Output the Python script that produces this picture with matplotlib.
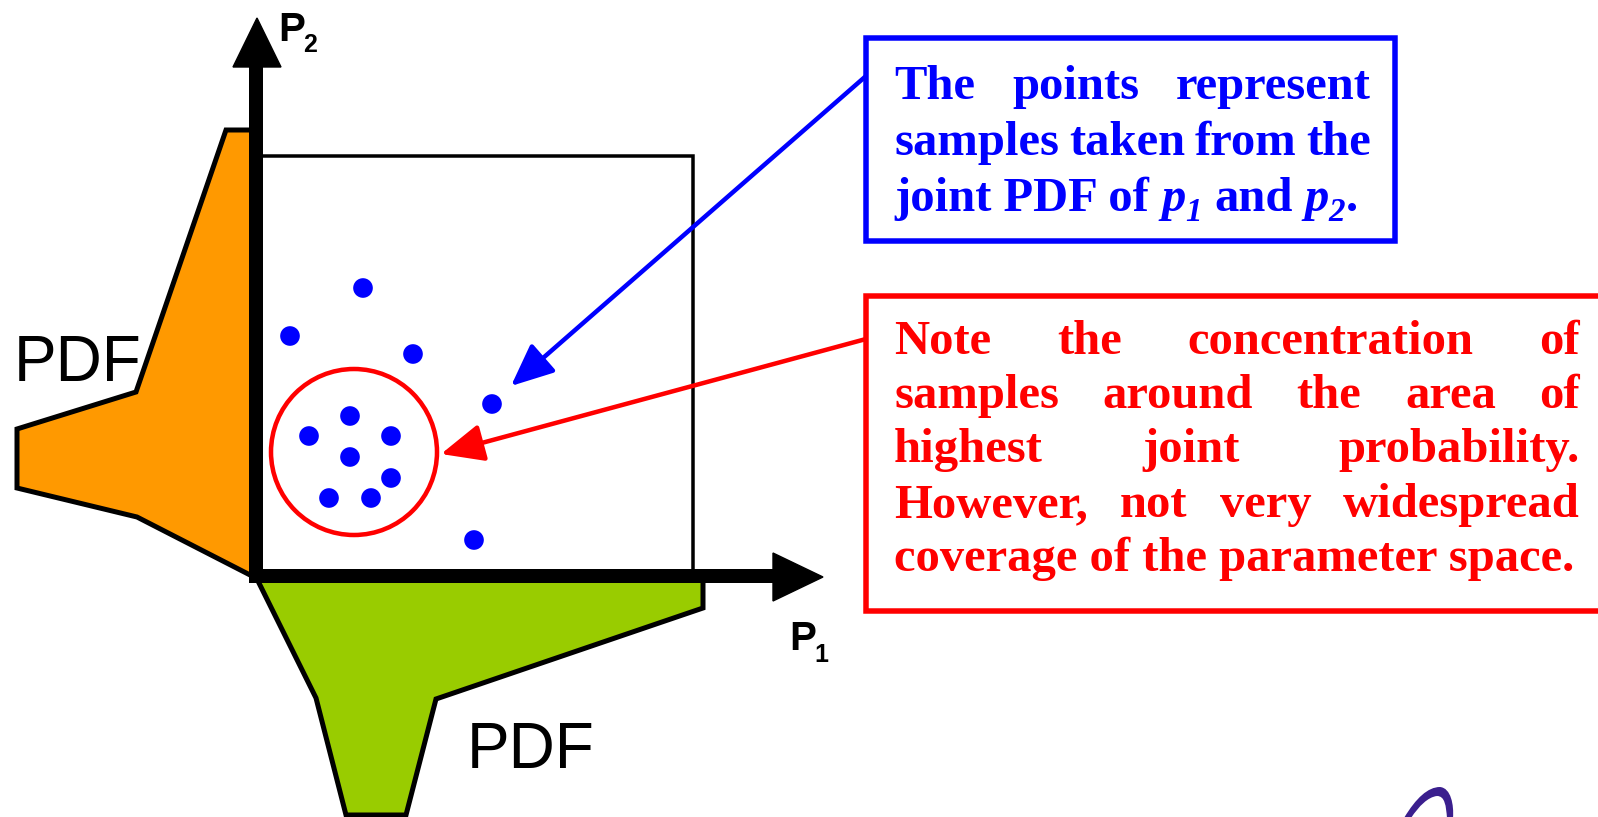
import matplotlib
matplotlib.use("Agg")
import matplotlib.pyplot as plt
from matplotlib.patches import Polygon, Rectangle, Circle, FancyArrowPatch, PathPatch
from matplotlib.path import Path
from matplotlib.font_manager import FontProperties

# ---------------- data (pixel space of the diagram) ----------------
sample_x = [363, 290, 413, 492, 350, 309, 391, 350, 391, 329, 371, 474]
sample_y = [288, 336, 354, 404, 416, 436, 436, 457, 478, 498, 498, 540]

pdf_p2_x = [254, 137, 17, 17, 136, 226, 256]
pdf_p2_y = [577, 517, 488, 429, 392, 130, 130]

pdf_p1_x = [256, 316, 346, 406, 436, 703, 703]
pdf_p1_y = [577, 698, 815, 815, 699, 608, 577]

blue_lines = ["The points represent", "samples taken from the"]
red_lines = ["Note the concentration of",
             "samples around the area of",
             "highest joint probability.",
             "However, not very widespread"]
red_last = "coverage of the parameter space."

BLUE = "#0000FF"
RED = "#FF0000"
ORANGE = "#FF9900"
GREEN = "#99CC00"

W, H = 1598, 817
fig = plt.figure(figsize=(W / 100, H / 100), dpi=100)
ax = fig.add_axes([0, 0, 1, 1])
ax.set_xlim(0, W)
ax.set_ylim(H, 0)
ax.axis("off")

PX = 0.72  # points per pixel

# PDF polygons
ax.add_patch(Polygon(list(zip(pdf_p2_x, pdf_p2_y)), closed=True, facecolor=ORANGE,
                     edgecolor="black", lw=5 * PX, joinstyle="miter", zorder=2))
ax.add_patch(Polygon(list(zip(pdf_p1_x, pdf_p1_y)), closed=True, facecolor=GREEN,
                     edgecolor="black", lw=5 * PX, joinstyle="miter", zorder=2))

# parameter space box
ax.add_patch(Rectangle((256, 156), 693 - 256, 576 - 156, facecolor="white",
                       edgecolor="black", lw=3.5 * PX, zorder=3))

# axes shafts
ax.plot([256, 256], [583, 66], color="black", lw=14 * PX, solid_capstyle="butt", zorder=4)
ax.plot([249, 774], [576, 576], color="black", lw=14 * PX, solid_capstyle="butt", zorder=4)
# arrow heads
ax.fill([233, 281, 257], [67, 67, 18], color="black", zorder=5)
ax.fill([773, 773, 823], [553, 601, 577], color="black", zorder=5)

# axis labels
bold_sans = FontProperties(family="Liberation Sans", weight="bold")
ax.text(278, 41, "P", fontproperties=bold_sans, fontsize=29, va="baseline", ha="left", zorder=6)
ax.text(303, 52, "2", fontproperties=bold_sans, fontsize=18, va="baseline", ha="left", zorder=6)
ax.text(789, 650, "P", fontproperties=bold_sans, fontsize=29, va="baseline", ha="left", zorder=6)
ax.text(814, 662, "1", fontproperties=bold_sans, fontsize=18, va="baseline", ha="left", zorder=6)

# PDF labels
ax.text(14, 381, "PDF", family="Liberation Sans", fontsize=46, va="baseline", ha="left", zorder=6)
ax.text(467, 768, "PDF", family="Liberation Sans", fontsize=46, va="baseline", ha="left", zorder=6)

# samples
ax.scatter(sample_x, sample_y, s=200, color=BLUE, edgecolors="none", zorder=6)

# concentration circle
ax.add_patch(Circle((354, 452), 83, facecolor="none", edgecolor=RED, lw=4.5 * PX, zorder=6))

# callout arrows
for (x0, y0, x1, y1, c) in [(866, 76, 511, 386, BLUE), (866, 339, 441, 454, RED)]:
    ax.add_patch(FancyArrowPatch((x0, y0), (x1, y1),
                                 arrowstyle="-|>,head_length=2.6,head_width=1.15",
                                 mutation_scale=10, color=c, lw=4.5 * PX,
                                 shrinkA=0, shrinkB=0, zorder=7))

# text boxes
ax.add_patch(Rectangle((866, 38), 1395 - 866, 241 - 38, facecolor="white",
                       edgecolor=BLUE, lw=5.5 * PX, zorder=8))
ax.add_patch(Rectangle((866, 296), 1610 - 866, 611 - 296, facecolor="white",
                       edgecolor=RED, lw=5.5 * PX, zorder=8))

FS = 35
serif_b = FontProperties(family="Liberation Serif", weight="bold", size=FS)
serif_bi = FontProperties(family="Liberation Serif", weight="bold", style="italic", size=FS)
serif_bi_sub = FontProperties(family="Liberation Serif", weight="bold", style="italic", size=FS * 0.68)

fig.canvas.draw()
renderer = fig.canvas.get_renderer()


def width_of(t):
    return t.get_window_extent(renderer).width


def justify(line, x0, x1, y, fp, color):
    words = line.split()
    texts = [ax.text(0, y, w, fontproperties=fp, color=color, ha="left",
                     va="baseline", zorder=9) for w in words]
    widths = [width_of(t) for t in texts]
    gap = (x1 - x0 - sum(widths)) / (len(words) - 1)
    x = x0
    for t, w in zip(texts, widths):
        t.set_x(x)
        x += w + gap


def runs(pieces, x, y, color):
    for txt, fp, dy in pieces:
        t = ax.text(x, y + dy, txt, fontproperties=fp, color=color, ha="left",
                    va="baseline", zorder=9)
        x += width_of(t)
    return x


# measure a space
ta = ax.text(0, 0, "a a", fontproperties=serif_b)
tb = ax.text(0, 0, "aa", fontproperties=serif_b)
space = width_of(ta) - width_of(tb)
ta.remove()
tb.remove()

blue_y = [99, 155, 211]
for line, y in zip(blue_lines, blue_y):
    justify(line, 894, 1371, y, serif_b, BLUE)

x = 894
x = runs([("joint PDF of", serif_b, 0)], x, blue_y[2], BLUE) + space
x = runs([("p", serif_bi, 0), ("1", serif_bi_sub, 10)], x, blue_y[2], BLUE) + space
x = runs([("and", serif_b, 0)], x, blue_y[2], BLUE) + space
runs([("p", serif_bi, 0), ("2", serif_bi_sub, 10), (".", serif_b, 0)], x, blue_y[2], BLUE)

red_y = [354, 408, 462, 517, 571]
for line, y in zip(red_lines, red_y):
    justify(line, 894, 1580, y, serif_b, RED)
ax.text(894, red_y[4], red_last, fontproperties=serif_b, color=RED, ha="left",
        va="baseline", zorder=9)

# partial logo crescent bottom-right
verts = [(1404, 818), (1416, 798), (1428, 787), (1440, 787),
         (1451, 788), (1454, 805), (1453, 818),
         (1447, 818), (1446, 806), (1445, 796), (1437, 796),
         (1428, 797), (1419, 806), (1411, 818), (1404, 818)]
codes = [Path.MOVETO, Path.CURVE4, Path.CURVE4, Path.CURVE4,
         Path.CURVE4, Path.CURVE4, Path.CURVE4,
         Path.LINETO, Path.CURVE4, Path.CURVE4, Path.CURVE4,
         Path.CURVE4, Path.CURVE4, Path.CURVE4, Path.CLOSEPOLY]
ax.add_patch(PathPatch(Path(verts, codes), facecolor="#3B1F8E", edgecolor="none", zorder=2))

fig.savefig("out.png", dpi=100)
